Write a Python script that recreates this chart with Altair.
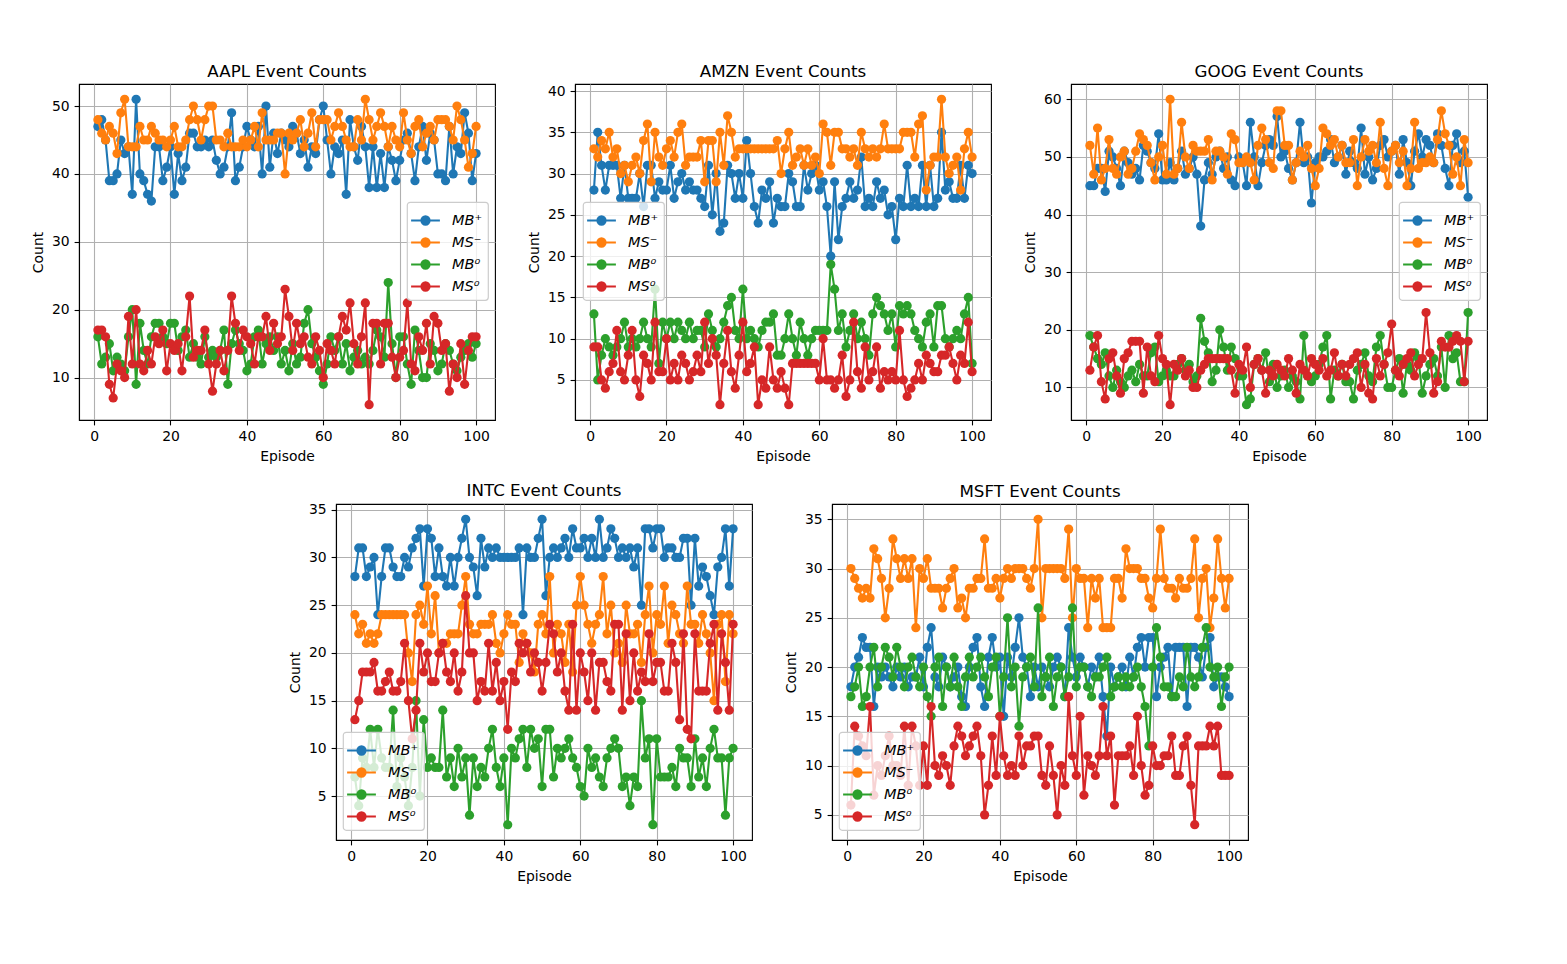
import altair as alt
import pandas as pd

episodes = list(range(1, 101))
series_names = ["MB⁺", "MS⁻", "MB⁰", "MS⁰"]
colors = ["#1f77b4", "#ff7f0e", "#2ca02c", "#d62728"]

# ---------------- AAPL ----------------
aapl_mb_plus = [47,48,45,39,39,40,45,43,44,37, 51,40,39,37,36,44,44,39,41,44,
                37,43,39,41,46,46,44,44,45,44, 45,42,40,41,44,49,39,41,44,47,
                45,44,47,40,50,41,46,43,46,45, 44,47,46,43,45,41,44,43,48,50,
                45,40,44,43,45,37,48,44,42,47, 44,38,44,38,43,38,44,42,39,42,
                45,46,43,39,44,47,42,46,45,40, 40,39,47,40,44,43,49,46,39,43]
aapl_ms_minus = [48,46,45,47,46,43,49,51,44,44, 44,47,45,45,47,46,45,45,44,45,
                 47,44,44,45,48,50,48,45,48,50, 50,45,45,44,46,44,44,44,45,44,
                 45,47,44,49,45,45,45,46,46,40, 46,45,46,48,44,46,49,44,48,48,
                 48,45,47,49,47,45,44,44,48,45, 51,48,45,47,49,47,44,47,45,44,
                 49,45,43,47,48,44,46,47,45,48, 48,48,47,45,50,48,45,41,43,47]
aapl_mb_zero = [16,12,13,15,11,13,12,11,16,20, 9,18,14,12,16,18,18,16,15,18,
                18,14,16,17,13,15,13,12,16,13, 14,13,14,17,9,15,17,15,14,11,
                12,16,17,12,15,16,14,16,12,14, 11,15,12,13,18,20,15,13,11,9,
                12,16,14,16,12,15,11,13,14,12, 13,12,14,17,16,13,24,15,10,16,
                16,12,9,17,14,10,10,15,14,11, 12,15,14,12,11,13,14,15,13,15]
aapl_ms_zero = [17,17,16,9,7,12,11,10,19,12, 20,12,11,14,12,16,15,17,11,15,
                14,15,11,16,22,13,14,14,17,12, 8,12,14,11,14,22,18,14,17,16,
                15,12,16,16,19,14,18,15,16,23, 19,14,18,15,16,13,12,16,14,10,
                15,14,12,16,19,17,21,15,12,16, 21,6,18,18,12,18,18,13,10,13,
                14,21,12,11,16,14,18,12,19,18, 14,15,8,12,10,15,9,14,16,16]

# ---------------- AMZN ----------------
amzn_mb_plus = [28,35,31,28,31,31,31,27,31,27, 27,27,30,26,31,31,27,29,28,28,
                31,27,29,30,28,29,28,28,27,26, 31,25,30,23,24,31,30,27,30,27,
                34,30,26,24,28,27,29,24,27,26, 26,30,29,26,26,31,28,30,31,28,
                29,26,20,29,22,26,27,29,27,28, 32,26,27,26,29,27,28,25,26,22,
                27,26,31,26,27,26,31,26,31,26, 27,35,28,29,27,27,31,27,31,30]
amzn_ms_minus = [33,32,34,33,35,32,33,30,31,29, 31,32,30,34,36,29,35,32,31,33,
                 34,32,35,36,31,32,32,32,34,29, 34,34,29,35,31,37,35,32,33,33,
                 33,33,33,33,33,33,33,33,34,30, 33,35,31,32,33,31,33,31,32,30,
                 36,35,31,35,35,33,33,32,33,31, 35,33,32,33,32,33,36,33,33,33,
                 33,35,35,35,32,36,37,28,31,32, 32,39,32,30,31,32,28,33,35,32]
amzn_mb_zero = [13,5,8,10,9,8,9,10,12,9, 10,9,10,12,10,9,16,7,12,10,
                12,10,12,11,10,12,10,11,11,9, 13,11,9,10,12,14,15,11,10,16,
                10,11,10,9,11,12,12,13,8,8, 10,13,10,8,12,10,8,10,11,11,
                11,11,19,16,11,13,9,11,13,10, 12,10,8,13,15,14,13,11,13,9,
                14,13,14,13,11,10,9,12,13,9, 14,14,10,9,10,11,10,13,15,7]
amzn_ms_zero = [9,9,5,4,6,7,11,6,5,8, 11,5,3,8,7,5,12,6,6,10,
                5,7,5,8,7,5,6,8,6,12, 7,10,8,2,7,11,6,4,8,12,
                6,7,9,2,5,4,9,5,4,6, 4,2,7,7,7,7,7,7,7,5,
                10,5,5,4,5,8,3,5,12,6, 4,9,5,6,9,4,6,5,6,5,
                11,5,3,4,5,7,5,8,7,6, 6,8,8,9,7,5,8,7,12,6]

# ---------------- GOOG ----------------
goog_mb_plus = [45,45,48,48,44,51,50,48,45,51, 49,47,48,46,52,51,49,48,54,46,
                46,49,46,48,51,47,48,50,47,38, 46,49,47,50,51,48,50,46,45,50,
                49,45,56,50,45,49,52,53,52,57, 50,51,48,46,49,56,49,50,42,49,
                50,50,51,53,49,50,52,47,51,49, 48,55,47,50,46,48,52,53,50,51,
                52,47,53,49,45,51,54,50,53,52, 49,54,52,48,45,52,54,49,51,43]
goog_ms_minus = [52,47,55,46,48,53,48,47,50,51, 47,48,51,54,53,52,49,46,50,52,
                 47,60,47,48,56,50,48,52,51,51, 51,53,46,51,51,50,47,54,53,49,
                 49,50,49,46,52,55,53,49,48,58, 58,52,52,46,49,51,50,52,48,45,
                 48,55,54,52,53,50,52,49,49,53, 45,50,53,51,52,49,56,48,45,51,
                 52,49,51,45,48,56,48,49,49,50, 49,53,58,54,52,47,50,45,53,49]
goog_mb_zero = [19,17,15,14,16,12,10,13,11,10, 12,13,11,14,12,12,16,17,11,12,
                13,12,12,14,15,13,14,11,12,22, 18,16,11,13,20,17,13,17,15,12,
                12,7,8,14,15,13,16,11,14,10, 12,13,10,12,11,8,19,12,11,12,
                14,17,19,8,13,12,14,11,11,8, 13,14,16,12,11,17,19,14,10,10,
                13,15,9,14,13,16,15,9,12,14, 15,12,17,10,19,15,16,11,11,23]
goog_ms_zero = [13,17,19,11,8,15,16,12,9,15, 16,18,18,18,9,17,12,11,19,15,
                14,7,14,13,15,12,13,10,10,13, 14,15,15,15,15,15,15,13,9,14,
                13,17,10,14,15,13,9,13,12,14, 13,12,15,13,9,14,13,12,15,14,
                13,15,12,13,16,12,14,12,14,15, 16,10,14,9,8,15,12,14,16,21,
                13,12,14,15,16,12,14,15,23,16, 9,11,18,17,17,18,19,18,11,18]

# ---------------- INTC ----------------
intc_mb_plus = [28,31,31,28,29,30,24,28,31,31, 29,28,28,30,29,31,32,33,27,33,
                32,28,31,28,27,30,27,30,32,34, 30,29,26,32,29,31,30,31,30,30,
                30,30,30,31,24,31,30,30,32,34, 26,30,31,30,31,32,30,33,31,31,
                32,30,32,30,34,30,31,33,32,30, 31,30,31,29,31,25,33,33,31,33,
                33,30,31,31,30,30,32,32,25,32, 27,29,28,26,24,29,30,33,27,33]
intc_ms_minus = [24,22,23,21,22,21,22,24,24,24, 24,24,24,24,20,17,24,25,23,27,
                 22,26,20,21,21,22,22,22,25,28, 23,22,22,23,23,23,24,21,20,22,
                 24,23,23,19,22,21,20,18,23,24, 22,28,20,23,22,19,23,18,25,28,
                 25,23,21,23,24,28,22,25,20,21, 19,25,22,22,23,19,24,27,20,24,
                 23,27,21,25,24,22,21,27,23,23, 21,24,22,20,15,23,24,17,24,22]
intc_mb_zero = [7,4,9,8,12,8,12,9,8,8, 14,6,9,7,4,8,15,5,13,8,
                9,8,8,14,7,9,6,10,7,9, 3,9,6,8,7,10,12,8,6,9,
                2,10,9,11,12,8,12,10,11,6, 12,12,7,10,9,10,11,9,8,6,
                5,10,8,9,7,6,9,10,11,10, 6,7,4,7,6,15,9,11,2,11,
                7,7,7,8,6,10,9,9,6,11, 7,9,6,10,12,9,9,3,9,10]
intc_ms_zero = [13,15,18,18,18,19,16,16,17,18, 16,16,17,21,15,11,14,21,18,20,
                17,17,20,21,18,17,20,16,18,26, 20,20,15,17,16,21,16,19,15,17,
                12,18,17,21,20,21,18,20,19,16, 19,23,22,18,20,16,14,23,14,20,
                18,15,20,14,19,19,17,16,23,23, 14,22,15,20,16,18,17,22,17,19,
                19,16,16,21,19,13,22,12,11,22, 16,16,16,21,23,14,22,19,14,23]

# ---------------- MSFT ----------------
msft_mb_plus = [18,20,21,23,22,22,16,20,19,20, 19,18,20,19,20,18,19,19,21,18,
                22,24,19,18,21,20,18,19,20,17, 16,20,22,23,18,16,21,23,20,21,
                15,21,19,22,25,21,20,17,20,18, 20,19,18,20,21,20,17,24,21,19,
                21,20,18,20,19,21,17,13,20,18, 19,20,18,21,19,22,23,20,23,23,
                17,20,21,22,17,22,22,22,16,22, 22,21,19,22,23,18,19,19,18,17]
msft_ms_minus = [30,29,28,27,28,27,32,31,29,25, 28,33,31,29,31,29,31,24,30,29,
                 31,28,28,28,26,28,29,30,26,27, 25,28,28,29,29,33,28,28,29,27,
                 29,30,29,30,30,30,29,28,30,35, 25,30,30,30,30,30,29,34,25,30,
                 29,29,24,29,27,29,24,24,24,29, 29,27,32,30,30,30,29,29,27,26,
                 29,34,29,28,28,27,29,28,28,29, 33,25,29,30,24,27,33,29,26,29]
msft_mb_zero = [17,18,20,16,17,20,22,18,20,22, 21,19,22,20,18,20,21,19,18,20,
                17,15,20,21,16,20,18,21,18,16, 19,21,19,20,21,19,17,20,21,15,
                19,25,18,20,14,19,20,21,18,26, 17,19,21,16,19,20,17,19,26,18,
                20,20,18,17,19,19,20,21,17,18, 19,18,19,18,19,20,18,16,12,20,
                24,21,18,18,17,17,19,18,22,19, 18,19,22,24,20,19,20,16,19,20]
msft_ms_zero = [6,14,13,12,11,16,7,10,9,11, 13,10,10,9,14,8,14,12,8,12,
                8,16,10,9,11,10,8,12,14,13, 11,12,13,14,11,5,8,13,9,15,
                11,9,10,9,13,10,12,12,13,13, 9,8,12,9,5,10,8,17,11,9,
                15,7,11,10,9,11,16,11,13,6, 11,11,11,12,9,15,10,7,8,12,
                10,10,11,11,13,9,9,12,13,8, 4,12,12,12,14,12,14,9,9,9]

x_ticks = [0, 20, 40, 60, 80, 100]

PLOT_W = 416
PLOT_H = 336

circ = ""
for r in (0.34, 0.2, 0.07):
    circ += f"M{r},0A{r},{r} 0 1,1 -{r},0A{r},{r} 0 1,1 {r},0"
legend_symbol = "M-1.2,0L1.2,0" + circ


def panel(ticker, series, ydomain, yticks, lx, ly):
    df = pd.DataFrame({
        "Episode": episodes * 4,
        "Count": [v for s in series for v in s],
        "series": [name for name in series_names for _ in episodes],
    })
    legend = alt.Legend(
        orient="none", legendX=lx, legendY=ly, title=None,
        symbolType=legend_symbol, symbolSize=576, symbolStrokeWidth=2.1,
        labelFont="DejaVu Sans", labelFontStyle="italic", labelFontSize=14.5,
        labelColor="black", labelOffset=13, padding=5, rowPadding=0,
        fillColor="rgba(255,255,255,0.8)", strokeColor="#cccccc",
        cornerRadius=3,
    )
    layers = []
    for name in series_names:
        layers.append(
            alt.Chart(df).transform_filter(alt.datum.series == name)
            .mark_line(strokeWidth=2.1,
                       point=alt.OverlayMarkDef(filled=True, size=85, opacity=1))
            .encode(
                x=alt.X("Episode:Q",
                        scale=alt.Scale(domain=[-3.95, 104.95], nice=False, zero=False),
                        axis=alt.Axis(values=x_ticks, title="Episode", format="d",
                                      labelFlush=False)),
                y=alt.Y("Count:Q",
                        scale=alt.Scale(domain=ydomain, nice=False, zero=False),
                        axis=alt.Axis(values=yticks, title="Count", format="d",
                                      labelFlush=False)),
                color=alt.Color("series:N",
                                scale=alt.Scale(domain=series_names, range=colors),
                                legend=legend),
            )
        )
    return alt.layer(*layers).properties(
        width=PLOT_W, height=PLOT_H,
        title=alt.TitleParams(f"{ticker} Event Counts", baseline="alphabetic", offset=-10),
    )


p_aapl = panel("AAPL", [aapl_mb_plus, aapl_ms_minus, aapl_mb_zero, aapl_ms_zero],
               [3.75, 53.25], [10, 20, 30, 40, 50], 328, 118)
p_amzn = panel("AMZN", [amzn_mb_plus, amzn_ms_minus, amzn_mb_zero, amzn_ms_zero],
               [0.15, 40.85], [5, 10, 15, 20, 25, 30, 35, 40], 8, 118)
p_goog = panel("GOOG", [goog_mb_plus, goog_ms_minus, goog_mb_zero, goog_ms_zero],
               [4.35, 62.65], [10, 20, 30, 40, 50, 60], 328, 118)
p_intc = panel("INTC", [intc_mb_plus, intc_ms_minus, intc_mb_zero, intc_ms_zero],
               [0.4, 35.6], [5, 10, 15, 20, 25, 30, 35], 7, 228)
p_msft = panel("MSFT", [msft_mb_plus, msft_ms_minus, msft_mb_zero, msft_ms_zero],
               [2.45, 36.55], [5, 10, 15, 20, 25, 30, 35], 7, 228)

spacer = alt.Chart(pd.DataFrame({"v": [0]})).mark_point(opacity=0).encode(
    x=alt.X("v:Q", axis=None), y=alt.Y("v:Q", axis=None)
).properties(width=178, height=10, view=alt.ViewBackground(strokeOpacity=0))

top = alt.hconcat(p_aapl, p_amzn, p_goog, spacing=31).resolve_scale(color="independent")
bottom = alt.hconcat(spacer, p_intc, p_msft, spacing=31).resolve_scale(color="independent")

chart = alt.vconcat(top, bottom, spacing=18).resolve_scale(
    color="independent"
).properties(
    padding={"left": 23, "top": 55, "right": 5, "bottom": 5},
    background="white",
).configure_view(
    stroke="black", strokeWidth=1.1
).configure_axis(
    domainColor="black", domainWidth=1.1, tickColor="black", tickWidth=1.1,
    tickSize=4.9, labelPadding=4.9, labelFont="DejaVu Sans", labelFontSize=13.9,
    labelColor="black", titleFont="DejaVu Sans", titleFontSize=13.9,
    titleFontWeight="normal", titleColor="black", gridColor="#b0b0b0",
    gridWidth=1.1, titlePadding=5.6,
).configure_title(
    font="DejaVu Sans", fontSize=16.7, fontWeight="normal", color="black",
    anchor="middle",
).configure_legend(
    strokeWidth=1.2,
)

chart.save("out.html", embed_options={"renderer": "svg", "actions": False})
